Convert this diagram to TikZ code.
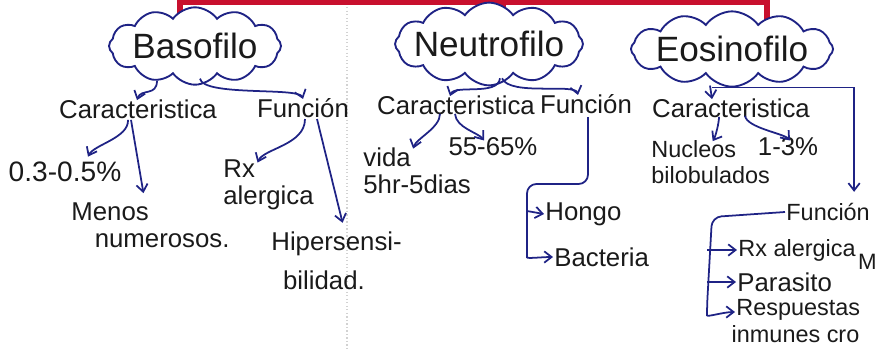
\documentclass[tikz,border=0pt]{standalone}
\usepackage{fontspec}
\setmainfont{Liberation Sans}
\usetikzlibrary{shapes.symbols, arrows.meta, calc}
\definecolor{ink}{HTML}{1F2385}
\definecolor{pen}{HTML}{1A1A1A}
\definecolor{redink}{HTML}{C8102E}
\tikzset{
    title/.style={cloud, draw=ink, fill=white, line width=1.6pt, cloud puffs=12, cloud puff arc=110, cloud ignores aspect, font=\fontsize{30}{32}\selectfont, text=pen},
    txt/.style={font=\fontsize{22}{23}\selectfont, text=pen, inner sep=1pt, align=left},
    arr/.style={-{Straight Barb[length=2.2mm,width=3.4mm]}, draw=ink, line width=1.5pt},
    wire/.style={draw=ink, line width=1.5pt},
    redline/.style={draw=redink, line width=4.5pt},
}

\begin{document}
\begin{tikzpicture}[x=0.03cm, y=-0.03cm]
\useasboundingbox (0,0) rectangle (878,350);
\clip (0,0) rectangle (878,350);

% page fold
\draw[gray!35, dotted, line width=1pt] (347,0) -- (347,350);

% Red top connector
\coordinate (rb) at (180,2);
\coordinate (rn) at (503,2);
\coordinate (re) at (767,2);
\draw[redline] (180,30) -- (rb) -- (re) -- (767,35);
\draw[redline] (rn) -- (503,30);

% Clouds
\node[title, inner xsep=-2pt, inner ysep=6pt] (baso) at (195,46) {Basofilo};
\node[title, inner xsep=-8pt, inner ysep=7pt] (neut) at (489,44) {Neutrofilo};
\node[title, inner xsep=-4pt, inner ysep=4pt] (eosi) at (732,49) {Eosinofilo};

% Basofilo
\node[txt] (bcar) at (138,109) {Caracteristica};
\node[txt] (bfun) at (303,108) {Función};
\node[txt, font=\fontsize{24}{26}\selectfont] (bpct) at (65,172) {0.3-0.5\%};
\node[txt, anchor=west] (bmen) at (70,225) {Menos\\\hspace*{20pt}numerosos.};
\node[txt, anchor=west] (brx) at (222,185) {Rx\\alergica};
\node[txt, anchor=west, font=\fontsize{22}{33}\selectfont] (bhip) at (270,261) {Hipersensi-\\\hspace*{10pt}bilidad.};

% Neutrofilo
\node[txt] (ncar) at (456,105) {Caracteristica};
\node[txt] (nfun) at (586,104) {Función};
\node[txt, anchor=west] (nvid) at (362,171) {vida\\5hr-5dias};
\node[txt] (npct) at (493,147) {55-65\%};
\node[txt, anchor=west] (nhon) at (544,214) {Hongo};
\node[txt, anchor=west] (nbac) at (553,257) {Bacteria};

% Eosinofilo
\node[txt] (ecar) at (731,108) {Caracteristica};
\node[txt, anchor=west, font=\fontsize{20}{22}\selectfont] (enuc) at (650,162) {Nucleos\\bilobulados};
\node[txt] (epct) at (788,147) {1-3\%};
\node[txt, anchor=west, font=\fontsize{20}{22}\selectfont] (efun) at (785,212) {Función};
\node[txt, anchor=west, font=\fontsize{20}{22}\selectfont] (erx) at (737,250) {Rx alergica};
\node[txt, anchor=west] (epar) at (736,282) {Parasito};
\node[txt, anchor=west, font=\fontsize{20}{23}\selectfont] (eres) at (735,321) {Respuestas\\\hspace*{-4pt}inmunes cro};
\node[txt, anchor=west, inner sep=0pt, font=\fontsize{19}{20}\selectfont] (emrk) at (858,262) {M};

% Arrows, Basofilo
\draw[arr] ($(baso.south)+(-38,-5)$) .. controls +(0,16) and +(4,-12) .. ($(bcar.north)+(-1,2)$);
\draw[arr] ($(baso.south)+(5,-7)$) .. controls +(3,18) and +(-4,-12) .. ($(bfun.north)+(0,2)$);
\draw[arr] ($(bcar.south)+(-10,0)$) .. controls +(1,18) and +(6,-12) .. ($(bpct.north)+(23,-4)$);
\draw[arr] ($(bcar.south)+(-7,0)$) -- ($(bmen.north)+(-7,-8)$);
\draw[arr] ($(bfun.south)+(2,0)$) .. controls +(0,26) and +(6,-14) .. ($(brx.north)+(-11,4)$);
\draw[arr] ($(bfun.south)+(14,0)$) -- ($(bhip.north)+(6,-8)$);

% Arrows, Neutrofilo
\draw[arr] ($(neut.south)+(11,-8)$) .. controls +(-2,18) and +(4,-12) .. ($(ncar.north)+(-6,2)$);
\draw[arr] ($(neut.south)+(13,-8)$) .. controls +(8,18) and +(-3,-12) .. ($(nfun.north)+(-8,2)$);
\draw[arr] ($(ncar.south)+(-16,-2)$) .. controls +(0,14) and +(3,-10) .. ($(nvid.north)+(-4,2)$);
\draw[arr] ($(ncar.south)+(-1,-2)$) .. controls +(1,14) and +(-6,-8) .. ($(npct.north)+(-9,4)$);
\coordinate (nbus) at (527,184);
\coordinate (nend) at (527,248);
\coordinate (nhub) at (527,211);
\draw[arr, rounded corners=8] ($(nfun.south)+(2,2)$) |- (nbus) -- (nend) to[out=-90, in=180] (nbac.west);
\draw[arr] (nhub) -- (nhon.west);

% Arrows, Eosinofilo
\draw[arr] ($(eosi.south)+(-22,-2)$) -- ($(ecar.north)+(-19,2)$);
\draw[arr] ($(eosi.south)+(-20,0)$) -| ($(efun.north)+(26,-10)$);
\draw[arr] ($(ecar.south)+(-12,-2)$) .. controls +(0,6) and +(3,-5) .. ($(enuc.north)+(2,2)$);
\draw[arr] ($(ecar.south)+(14,-3)$) .. controls +(2,12) and +(-6,-7) .. ($(epct.north)+(2,4)$);
\coordinate (eend) at (707,306);
\coordinate (erxhub) at (707,250);
\coordinate (eparhub) at (707,282);
\draw[arr, rounded corners=8] (efun.west) -- (712,217) -- (eend) to[out=-90, in=180] ($(eres.west)+(0,-9)$);
\draw[arr] (erxhub) -- (erx.west);
\draw[arr] (eparhub) -- (epar.west);

\end{tikzpicture}
\end{document}
